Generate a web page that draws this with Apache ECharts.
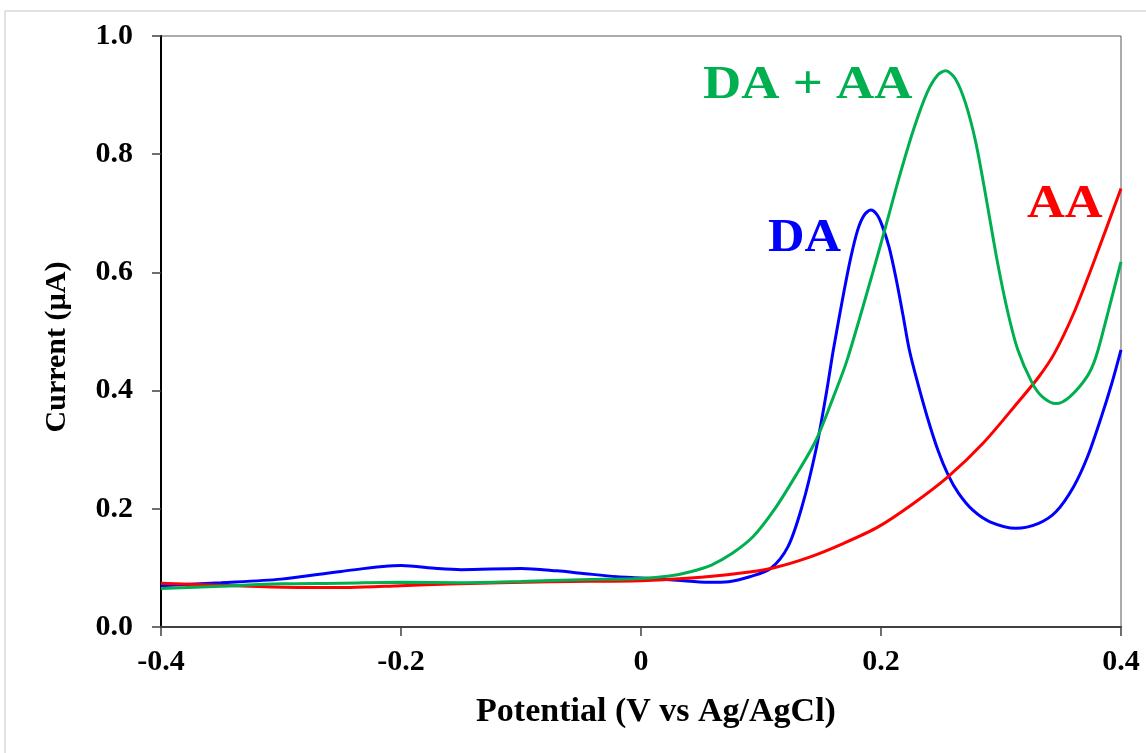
<!DOCTYPE html>
<html>
<head>
<meta charset="UTF-8">
<title>DA / AA voltammogram</title>
<script src="https://cdn.jsdelivr.net/npm/echarts@6/dist/echarts.min.js"></script>
<style>
  html, body { margin: 0; padding: 0; background: #fff; }
  #main { width: 1146px; height: 753px; }
</style>
</head>
<body>
<div id="main"></div>
<script type="text/javascript">
// potential (V) and current (uA)
var daX = [-0.4, -0.35, -0.3, -0.25, -0.2, -0.17, -0.15, -0.1, -0.07, -0.05, -0.02, 0.0, 0.03, 0.056, 0.073,
  0.0906, 0.108, 0.1225, 0.1342, 0.1458, 0.1544, 0.1603, 0.1689, 0.1748, 0.1806, 0.186, 0.1916, 0.1965,
  0.2008, 0.2067, 0.2125, 0.2183, 0.2235, 0.2299, 0.2386, 0.2473, 0.256, 0.2647, 0.2763, 0.2908, 0.3125,
  0.3314, 0.3458, 0.3604, 0.3721, 0.3837, 0.3923, 0.4];
var daY = [0.070, 0.075, 0.081, 0.094, 0.104, 0.099, 0.097, 0.099, 0.095, 0.091, 0.085, 0.083, 0.079, 0.0756, 0.0767,
  0.085, 0.099, 0.136, 0.204, 0.300, 0.395, 0.469, 0.565, 0.625, 0.672, 0.697, 0.7056, 0.698,
  0.680, 0.643, 0.590, 0.528, 0.470, 0.418, 0.355, 0.300, 0.257, 0.226, 0.198, 0.178, 0.167,
  0.1755, 0.195, 0.237, 0.288, 0.356, 0.412, 0.469];

var aaX = [-0.4, -0.326, -0.284, -0.2425, -0.2, -0.159, -0.076, 0, 0.0383, 0.0819, 0.1109, 0.1399, 0.1689,
  0.198, 0.227, 0.256, 0.285, 0.314, 0.3314, 0.3445, 0.3604, 0.3778, 0.4];
var aaY = [0.074, 0.069, 0.067, 0.067, 0.070, 0.0728, 0.0767, 0.0784, 0.0823, 0.0908, 0.1004, 0.1178, 0.1416,
  0.1698, 0.209, 0.2544, 0.3108, 0.380, 0.423, 0.463, 0.530, 0.620, 0.742];

var mixX = [-0.4, -0.35, -0.3, -0.25, -0.2, -0.15, -0.1, -0.05, 0, 0.0238, 0.0413, 0.0587, 0.0761, 0.0935,
  0.1109, 0.1283, 0.1458, 0.1603, 0.1718, 0.1922, 0.2038, 0.2153, 0.227, 0.2386, 0.2473, 0.2539, 0.2618,
  0.2705, 0.2792, 0.2879, 0.2967, 0.3053, 0.314, 0.3257, 0.3343, 0.3459, 0.3575, 0.3721, 0.3793, 0.3895, 0.4];
var mixY = [0.065, 0.069, 0.073, 0.074, 0.0756, 0.075, 0.077, 0.080, 0.082, 0.0863, 0.0936, 0.1049, 0.1247, 0.153,
  0.198, 0.254, 0.316, 0.389, 0.452, 0.593, 0.677, 0.762, 0.841, 0.905, 0.934, 0.941, 0.928,
  0.886, 0.818, 0.7225, 0.621, 0.536, 0.469, 0.414, 0.390, 0.378, 0.390, 0.425, 0.458, 0.535, 0.618];

var seriesNames = ['DA', 'AA', 'DA + AA'];
var seriesColors = ['#0000ff', '#ff0000', '#00b050'];

function pairs(xs, ys) {
  var out = [];
  for (var i = 0; i < xs.length; i++) out.push([xs[i], ys[i]]);
  return out;
}

var font = '"Liberation Serif", "Times New Roman", serif';
var myChart = echarts.init(document.getElementById('main'));

function lineSeries(idx, data) {
  return {
    name: seriesNames[idx],
    type: 'line',
    data: data,
    smooth: 0.3,
    showSymbol: false,
    lineStyle: { color: seriesColors[idx], width: 3 },
    itemStyle: { color: seriesColors[idx] },
    animation: false
  };
}

var option = {
  backgroundColor: '#fff',
  animation: false,
  grid: {
    left: 161, right: 25, top: 36, bottom: 126,
    show: true, borderColor: '#595959', borderWidth: 1
  },
  xAxis: {
    type: 'value',
    min: -0.4, max: 0.4, interval: 0.2,
    axisLine: { show: true, onZero: false, lineStyle: { color: '#404040', width: 2 } },
    axisTick: { show: true, inside: false, length: 9, lineStyle: { color: '#404040', width: 1.5 } },
    splitLine: { show: false },
    axisLabel: {
      margin: 20, color: '#000', fontFamily: font, fontWeight: 'bold', fontSize: 30,
      formatter: function (v) { return Math.abs(v) < 1e-9 ? '0' : v.toFixed(1); }
    }
  },
  yAxis: {
    type: 'value',
    min: 0, max: 1.0, interval: 0.2,
    axisLine: { show: true, onZero: false, lineStyle: { color: '#000', width: 2 } },
    axisTick: { show: true, inside: false, length: 9, lineStyle: { color: '#404040', width: 1.5 } },
    splitLine: { show: false },
    axisLabel: {
      margin: 28, color: '#000', fontFamily: font, fontWeight: 'bold', fontSize: 30,
      formatter: function (v) { return v.toFixed(1); }
    }
  },
  series: [
    lineSeries(0, pairs(daX, daY)),
    lineSeries(1, pairs(aaX, aaY)),
    lineSeries(2, pairs(mixX, mixY))
  ],
  graphic: [
    {
      type: 'rect', silent: true, z: -10,
      shape: { x: 5, y: 11, width: 1200, height: 800 },
      style: { fill: null, stroke: '#d9d9d9', lineWidth: 1.5 }
    },
    {
      type: 'text', x: 656, y: 712, z: 10,
      style: { text: 'Potential (V vs Ag/AgCl)', fill: '#000', font: 'bold 34px ' + font,
        textAlign: 'center', textVerticalAlign: 'middle' }
    },
    {
      type: 'text', x: 57, y: 347, rotation: Math.PI / 2, z: 10,
      style: { text: 'Current (\u00b5A)', fill: '#000', font: 'bold 30px ' + font,
        textAlign: 'center', textVerticalAlign: 'middle' }
    },
    {
      type: 'text', x: 703, y: 86, scaleX: 1.15, z: 10,
      style: { text: 'DA + AA', fill: seriesColors[2], font: 'bold 46px ' + font,
        textAlign: 'left', textVerticalAlign: 'middle' }
    },
    {
      type: 'text', x: 768, y: 239, scaleX: 1.1, z: 10,
      style: { text: 'DA', fill: seriesColors[0], font: 'bold 46px ' + font,
        textAlign: 'left', textVerticalAlign: 'middle' }
    },
    {
      type: 'text', x: 1027, y: 205, scaleX: 1.14, z: 10,
      style: { text: 'AA', fill: seriesColors[1], font: 'bold 46px ' + font,
        textAlign: 'left', textVerticalAlign: 'middle' }
    }
  ]
};

myChart.setOption(option);
</script>
</body>
</html>
